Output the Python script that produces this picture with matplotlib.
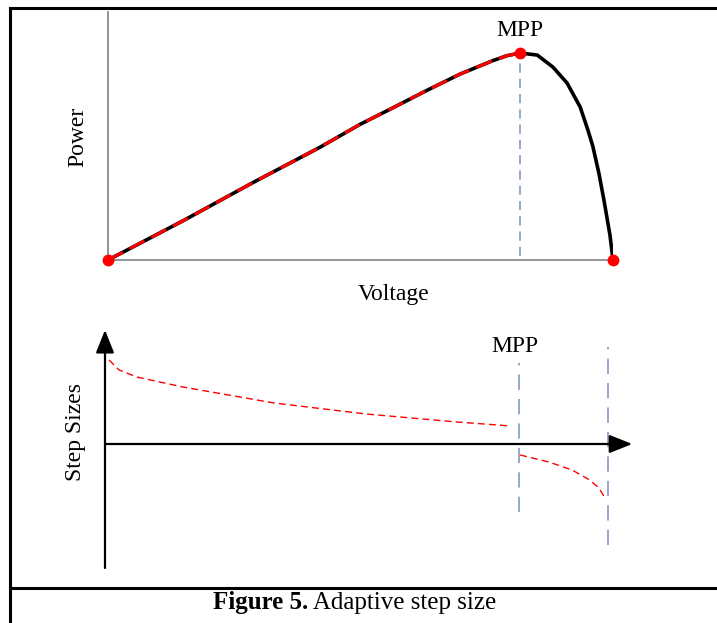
"""Figure 5: adaptive step size (P-V curve + step size profile)"""
import matplotlib.pyplot as plt
from matplotlib.lines import Line2D

plt.rcParams["font.family"] = ["Liberation Serif", "DejaVu Serif"]

# ---- data ------------------------------------------------------------------
# P-V curve (voltage and power normalised, Voc = 1, Pmpp = 1)
PV_V = [0.0, 0.149, 0.284, 0.420, 0.499, 0.564, 0.632, 0.697, 0.762, 0.790,
        0.816, 0.850, 0.881, 0.909, 0.935, 0.950, 0.960, 0.972, 0.982, 0.994,
        1.0]
PV_P = [0.0, 0.190, 0.370, 0.545, 0.655, 0.735, 0.820, 0.898, 0.963, 0.987,
        1.0, 0.990, 0.932, 0.855, 0.739, 0.630, 0.550, 0.420, 0.290, 0.120,
        0.0]
MPP_IDX = 10
DOT_V = [0.0, 0.816, 1.0]
DOT_P = [0.0, 1.0, 0.0]

# step size profile: large steps far from MPP, negative after it
STEP1_V = [0.008, 0.028, 0.063, 0.154, 0.335, 0.517, 0.697, 0.804]
STEP1_S = [0.84, 0.74, 0.67, 0.57, 0.41, 0.30, 0.22, 0.18]
STEP2_V = [0.822, 0.879, 0.925, 0.960, 0.978, 0.989]
STEP2_S = [-0.11, -0.18, -0.26, -0.36, -0.44, -0.53]
MARK_V = [0.820, 0.996]
MARK_TOP = [0.81, 0.97]
MARK_BOT = [-0.68, -1.01]

BLUE = "#7b8fb8"
RED = "#ff0000"
FS = 17

fig = plt.figure(figsize=(7.17, 6.23), dpi=100)

# ============================================================================
# top: power vs voltage
# ============================================================================
ax = fig.add_axes([108 / 717, (623 - 260) / 623, 505 / 717, 248 / 623])
ax.set_xlim(0, 1.0)
ax.set_ylim(0, 248 / 207)
for s in ("top", "right"):
    ax.spines[s].set_visible(False)
for s in ("left", "bottom"):
    ax.spines[s].set_color("#808080")
    ax.spines[s].set_linewidth(1.2)
ax.set_xticks([])
ax.set_yticks([])
ax.patch.set_alpha(0)

ax.plot(PV_V, PV_P, color="black", lw=2.6, solid_capstyle="round",
        solid_joinstyle="round", zorder=3)
ax.plot(PV_V[:MPP_IDX + 1], PV_P[:MPP_IDX + 1], color=RED, lw=2.2,
        dashes=(5.5, 2.5), zorder=4)
ax.plot([DOT_V[1], DOT_V[1]], [0.02, DOT_P[1]], color=BLUE, lw=1.1,
        dashes=(6, 4), zorder=2)
ax.plot(DOT_V, DOT_P, "o", color=RED, ms=7.5, clip_on=False, zorder=5)

ax.text(DOT_V[1], 1.11, "MPP", fontsize=FS, ha="center", va="center")
ax.text(-0.059, 0.496, "Power", fontsize=FS, rotation=90,
        ha="center", va="center", transform=ax.transAxes)
ax.text(0.566, -0.141, "Voltage", fontsize=FS, ha="center", va="center",
        transform=ax.transAxes)

# ============================================================================
# bottom: step sizes
# ============================================================================
bx = fig.add_axes([105 / 717, (623 - 568) / 623, 1.06 * 505 / 717, 240 / 623])
bx.set_xlim(0, 1.06)
bx.set_ylim(-1.24, 1.16)
bx.axis("off")

arrow = dict(arrowstyle="-|>,head_length=0.7,head_width=0.28",
             mutation_scale=20, lw=1.6, color="black", shrinkA=0, shrinkB=0)
bx.annotate("", xy=(0, 1.14), xytext=(0, -1.24), arrowprops=arrow)
bx.annotate("", xy=(1.044, 0), xytext=(0, 0), arrowprops=arrow)

bx.plot(STEP1_V, STEP1_S, color=RED, lw=1.0, dashes=(5, 3))
bx.plot(STEP2_V, STEP2_S, color=RED, lw=1.0, dashes=(5, 3))
for v, top, bot in zip(MARK_V, MARK_TOP, MARK_BOT):
    bx.plot([v, v], [bot, top], color=BLUE, lw=1.1, dashes=(10, 6))

bx.text(0.812, 0.97, "MPP", fontsize=FS, ha="center", va="center")
bx.text(-0.059, 0.12, "Step Sizes", fontsize=FS, rotation=90,
        ha="center", va="center", clip_on=False)

# ============================================================================
# frame + caption
# ============================================================================
def hline(y):
    fig.add_artist(Line2D([10 / 717, 1.0], [y, y], color="black", lw=2.2,
                          transform=fig.transFigure))

hline((623 - 8) / 623)
hline((623 - 588) / 623)
fig.add_artist(Line2D([10 / 717, 10 / 717], [0, (623 - 8) / 623],
                      color="black", lw=2.2, transform=fig.transFigure))

cap = fig.text(213 / 717, (623 - 609) / 623, "Figure 5.", fontsize=18,
               fontweight="bold", ha="left", va="baseline")
plt.annotate(" Adaptive step size", xy=(1, 0), xycoords=cap, fontsize=18,
             ha="left", va="bottom", annotation_clip=False)

fig.savefig("out.png", dpi=100)
